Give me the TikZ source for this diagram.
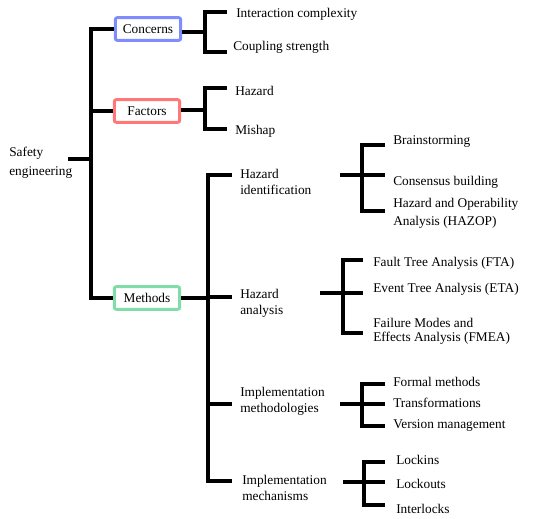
\documentclass[tikz,border=0pt]{standalone}
\usepackage{fontspec}
\setmainfont{Liberation Serif}
\usetikzlibrary{positioning}
\definecolor{concernblue}{HTML}{7F8CFF}
\definecolor{factorred}{HTML}{FF7777}
\definecolor{methodgreen}{HTML}{80DCA8}

\begin{document}
\begin{tikzpicture}[x=0.75pt,y=-0.75pt,font=\fontsize{10}{12}\selectfont,
    leaf/.style={anchor=west,inner sep=0pt,align=left,yshift=-1.2pt},
    catbox/.style={draw,line width=2.2pt,rounded corners=1.5pt,minimum width=49pt,minimum height=17pt,inner sep=0pt},
    branch/.style={line width=2.6pt}]
  \useasboundingbox (0,0) rectangle (537,519);

  % root and first level
  \node (root) [leaf,font=\fontsize{10}{14}\selectfont] at (9,161) {Safety\\engineering};
  \node (concerns) [catbox,draw=concernblue] at (148,29) {Concerns};
  \node (factors) [catbox,draw=factorred] at (147,111) {Factors};
  \node (methods) [catbox,draw=methodgreen] at (147,298) {Methods};
  \coordinate (rootstub) at (68,159);
  \coordinate (trunk) at (91,159);
  \draw[branch] (rootstub) -- (trunk);
  \draw[branch] (concerns.west) -| (trunk) |- (methods.west);
  \draw[branch] (factors.west) -- (factors.west -| trunk);

  % concerns
  \node (inter) [leaf] at (236,13) {Interaction complexity};
  \node (coupling) [leaf] at (233,46) {Coupling strength};
  \coordinate (cfork) at (205,32);
  \coordinate (ctop) at (227,12);
  \coordinate (cbot) at (227,52);
  \draw[branch] (concerns.east |- cfork) -- (cfork);
  \draw[branch] (ctop) -| (cfork |- cbot) -- (cbot);

  % factors
  \node (hazard) [leaf] at (235,89) {Hazard};
  \node (mishap) [leaf] at (235,130) {Mishap};
  \coordinate (ffork) at (205,110);
  \coordinate (ftop) at (227,88);
  \coordinate (fbot) at (227,129);
  \draw[branch] (factors.east |- ffork) -- (ffork);
  \draw[branch] (ftop) -| (ffork |- fbot) -- (fbot);

  % methods
  \node (hazid) [leaf] at (240,180.5) {Hazard\\identification};
  \node (hazan) [leaf] at (240,301.5) {Hazard\\analysis};
  \node (implmeth) [leaf] at (240,400) {Implementation\\methodologies};
  \node (implmech) [leaf] at (242,486.5) {Implementation\\mechanisms};
  \coordinate (mfork) at (208,298);
  \coordinate (mtop) at (232,175);
  \coordinate (mhazan) at (232,297);
  \coordinate (mmeth) at (232,404);
  \coordinate (mbot) at (232,481);
  \draw[branch] (methods.east) -- (mfork);
  \draw[branch] (mtop) -| (mfork |- mbot) -- (mbot);
  \draw[branch] (mfork |- mhazan) -- (mhazan);
  \draw[branch] (mfork |- mmeth) -- (mmeth);

  % hazard identification
  \node (brain) [leaf] at (393,140) {Brainstorming};
  \node (consensus) [leaf] at (393,181) {Consensus building};
  \node (hazop) [leaf,font=\fontsize{10}{13.5}\selectfont] at (393,212) {Hazard and Operability\\Analysis (HAZOP)};
  \coordinate (hiin) at (340,175);
  \coordinate (hiout) at (385,175);
  \coordinate (hitop) at (385,145);
  \coordinate (hibot) at (385,211);
  \draw[branch] (hiin) -- (hiout);
  \draw[branch] (hitop) -| (362,211) -- (hibot);

  % hazard analysis
  \node (fta) [leaf] at (373,262) {Fault Tree Analysis (FTA)};
  \node (eta) [leaf] at (373,288) {Event Tree Analysis (ETA)};
  \node (fmea) [leaf,font=\fontsize{10}{10.5}\selectfont] at (373,330) {Failure Modes and\\Effects Analysis (FMEA)};
  \coordinate (hain) at (320,293);
  \coordinate (haout) at (363,293);
  \coordinate (hatop) at (363,260);
  \coordinate (habot) at (363,333);
  \draw[branch] (hain) -- (haout);
  \draw[branch] (hatop) -| (343,333) -- (habot);

  % implementation methodologies
  \node (formal) [leaf] at (393,380) {Formal methods};
  \node (transf) [leaf] at (393,401) {Transformations};
  \node (version) [leaf] at (393,424) {Version management};
  \coordinate (imin) at (340,404);
  \coordinate (imout) at (385,404);
  \coordinate (imtop) at (385,384);
  \coordinate (imbot) at (385,426);
  \draw[branch] (imin) -- (imout);
  \draw[branch] (imtop) -| (362,426) -- (imbot);

  % implementation mechanisms
  \node (lockins) [leaf] at (396,458) {Lockins};
  \node (lockouts) [leaf] at (396,482) {Lockouts};
  \node (interlocks) [leaf] at (396,507) {Interlocks};
  \coordinate (mcin) at (343,482);
  \coordinate (mcout) at (385,482);
  \coordinate (mctop) at (385,462);
  \coordinate (mcbot) at (385,505);
  \draw[branch] (mcin) -- (mcout);
  \draw[branch] (mctop) -| (364,505) -- (mcbot);
\end{tikzpicture}
\end{document}
